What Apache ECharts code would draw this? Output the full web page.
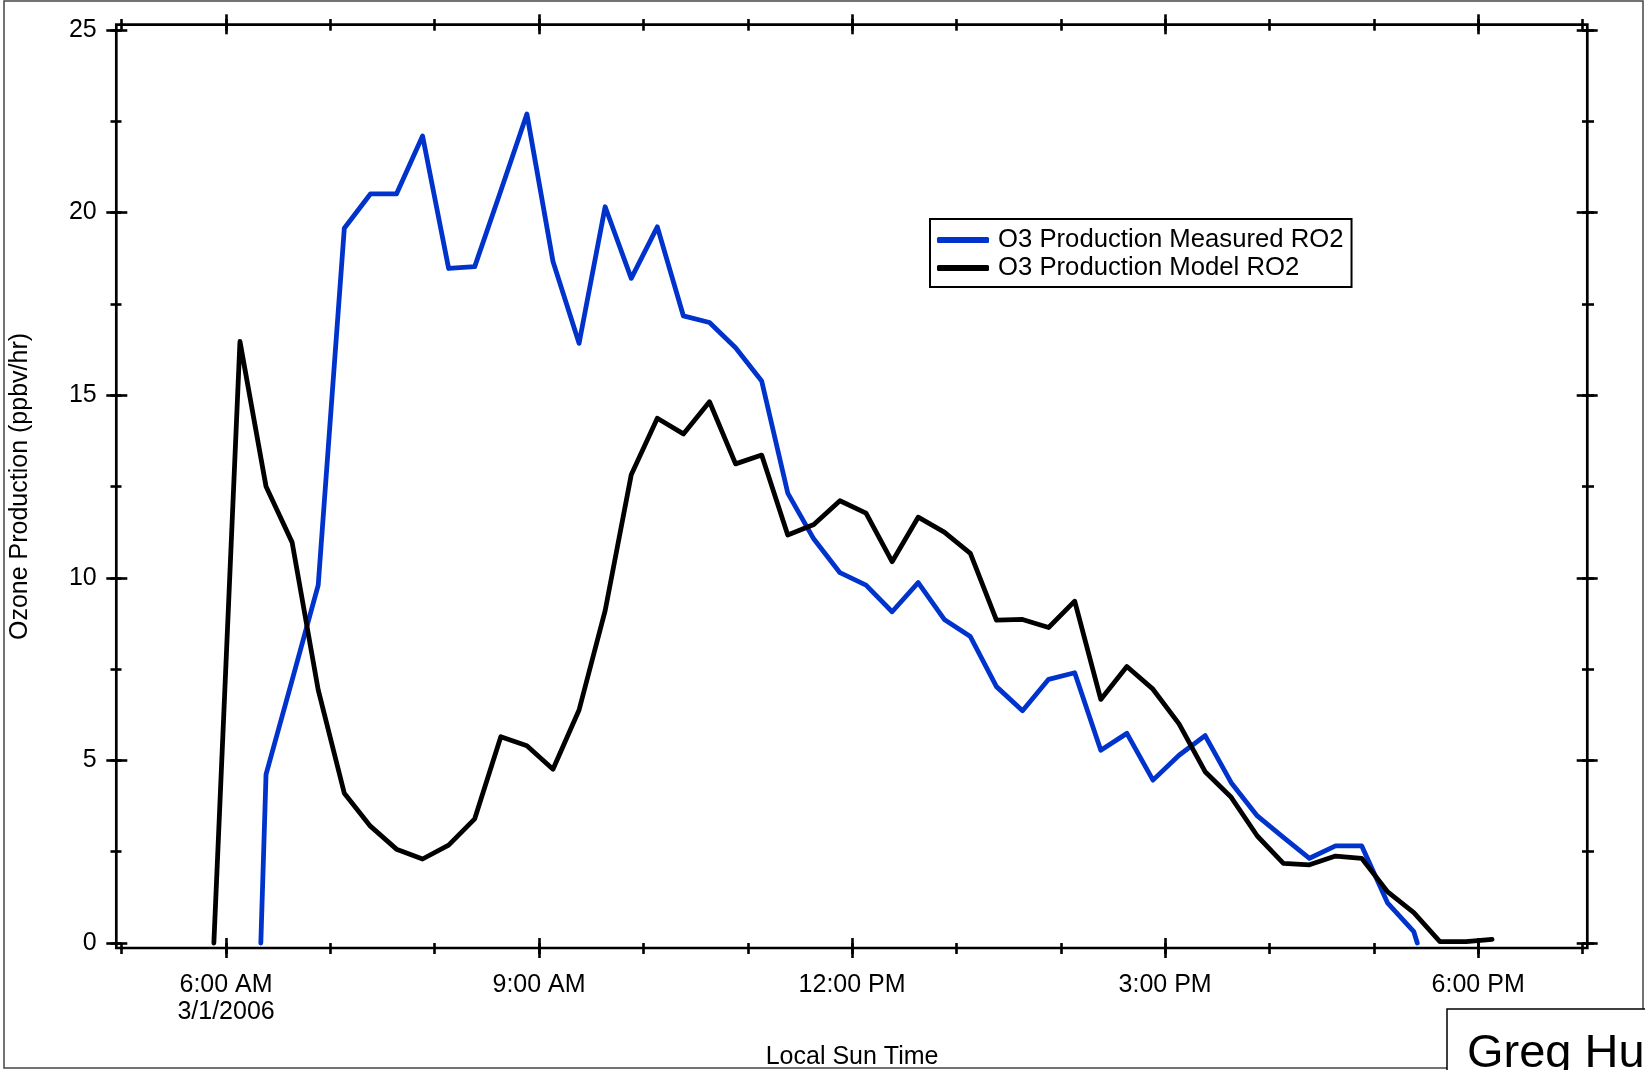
<!DOCTYPE html>
<html>
<head>
<meta charset="utf-8">
<title>O3 Production</title>
<script src="https://cdn.jsdelivr.net/npm/echarts@6/dist/echarts.min.js"></script>
<style>
  html, body { margin: 0; padding: 0; background: #fff; }
  #chart { width: 1645px; height: 1070px; }
</style>
</head>
<body>
<div id="chart"></div>
<script>
// Local sun time of each sample (3/1/2006)
const measuredTimes = [
  '6:20', '6:23', '6:38', '6:53', '7:08', '7:23', '7:38', '7:53', '8:08', '8:23',
  '8:38', '8:53', '9:08', '9:23', '9:38', '9:53', '10:08', '10:23', '10:38', '10:53',
  '11:08', '11:23', '11:38', '11:53', '12:08', '12:23', '12:38', '12:53', '13:08', '13:23',
  '13:38', '13:53', '14:08', '14:23', '14:38', '14:53', '15:08', '15:23', '15:38', '15:53',
  '16:08', '16:23', '16:38', '16:53', '17:08', '17:23', '17:25'
];
// O3 production from measured RO2 (ppbv/hr)
const measuredValues = [
  0, 4.62, 7.2, 9.8, 19.57, 20.51, 20.51, 22.1, 18.47, 18.52,
  20.6, 22.7, 18.66, 16.42, 20.16, 18.2, 19.61, 17.17, 16.99, 16.3,
  15.39, 12.32, 11.06, 10.14, 9.8, 9.07, 9.87, 8.86, 8.39, 7.02,
  6.36, 7.22, 7.4, 5.28, 5.74, 4.46, 5.14, 5.68, 4.39, 3.48,
  2.89, 2.32, 2.66, 2.66, 1.09, 0.31, 0
];

const modelTimes = [
  '5:53', '6:08', '6:23', '6:38', '6:53', '7:08', '7:23', '7:38', '7:53', '8:08',
  '8:23', '8:38', '8:53', '9:08', '9:23', '9:38', '9:53', '10:08', '10:23', '10:38',
  '10:53', '11:08', '11:23', '11:38', '11:53', '12:08', '12:23', '12:38', '12:53', '13:08',
  '13:23', '13:38', '13:53', '14:08', '14:23', '14:38', '14:53', '15:08', '15:23', '15:38',
  '15:53', '16:08', '16:23', '16:38', '16:53', '17:08', '17:23', '17:38', '17:53', '18:08'
];
// O3 production from model RO2 (ppbv/hr)
const modelValues = [
  0, 16.47, 12.5, 10.97, 6.93, 4.1, 3.2, 2.57, 2.3, 2.68,
  3.4, 5.65, 5.4, 4.76, 6.38, 9.1, 12.82, 14.37, 13.94, 14.82,
  13.12, 13.36, 11.17, 11.46, 12.11, 11.77, 10.44, 11.66, 11.25, 10.67,
  8.84, 8.86, 8.64, 9.36, 6.67, 7.57, 6.95, 6.0, 4.69, 3.99,
  2.93, 2.18, 2.14, 2.38, 2.32, 1.4, 0.83, 0.04, 0.04, 0.1
];

const seriesNames = ['O3 Production Measured RO2', 'O3 Production Model RO2'];

// Hour axis: 5 AM to 7 PM, labelled every three hours
const xTickHours = [6, 9, 12, 15, 18];
const xTickLabels = ['6:00 AM\n3/1/2006', '9:00 AM', '12:00 PM', '3:00 PM', '6:00 PM'];
const yTickValues = [0, 5, 10, 15, 20, 25];

function toHours(t) {
  const p = t.split(':');
  return Number(p[0]) + Number(p[1]) / 60;
}
function pairs(times, values) {
  return times.map((t, i) => [toHours(t), values[i]]);
}

const FONT = '"Liberation Sans", Arial, Helvetica, sans-serif';
const TICK = { color: '#000', width: 2.6 };

function hAxis(opts) {
  return Object.assign({
    gridIndex: 1, type: 'value', min: 5, max: 19,
    axisLine: { show: false, onZero: false },
    splitLine: { show: false },
    axisLabel: { show: false }
  }, opts);
}
function vAxis(opts) {
  return Object.assign({
    gridIndex: 1, type: 'value', min: 0, max: 25,
    axisLine: { show: false, onZero: false },
    splitLine: { show: false },
    axisLabel: { show: false }
  }, opts);
}

const chart = echarts.init(document.getElementById('chart'), null, { renderer: 'canvas' });

chart.setOption({
  animation: false,
  backgroundColor: '#fff',
  textStyle: { fontFamily: FONT, color: '#000' },
  grid: [
    // plot frame
    { left: 116.3, top: 24.7, right: 57.7, bottom: 122, show: true,
      outerBoundsMode: 'none', containLabel: false,
      borderColor: '#000', borderWidth: 2.7, backgroundColor: 'transparent' },
    // data area
    { left: 121.7, top: 30, right: 62.5, bottom: 127,
      outerBoundsMode: 'none', containLabel: false }
  ],
  xAxis: [
    hAxis({
      position: 'bottom', offset: 15,
      axisTick: { show: true, inside: true, length: 20, lineStyle: TICK, customValues: xTickHours },
      axisLabel: {
        show: true, customValues: xTickHours, margin: 14,
        fontSize: 25, lineHeight: 27, color: '#000', fontFamily: FONT,
        formatter: v => xTickLabels[xTickHours.indexOf(v)]
      },
      name: 'Local Sun Time', nameLocation: 'middle', nameGap: 87,
      nameTextStyle: { fontSize: 25, color: '#000', fontFamily: FONT }
    }),
    hAxis({
      position: 'bottom', offset: 11, interval: 1,
      axisTick: { show: true, inside: true, length: 11, lineStyle: TICK }
    }),
    hAxis({
      position: 'top', offset: 15.7,
      axisTick: { show: true, inside: true, length: 20, lineStyle: TICK, customValues: xTickHours }
    }),
    hAxis({
      position: 'top', offset: 11, interval: 1,
      axisTick: { show: true, inside: true, length: 11.7, lineStyle: TICK }
    }),
    { gridIndex: 0, type: 'value', show: false, min: 0, max: 1 }
  ],
  yAxis: [
    vAxis({
      position: 'left', offset: 15.4, interval: 5,
      axisTick: { show: true, inside: true, length: 21, lineStyle: TICK },
      axisLabel: {
        show: true, margin: 9.6, fontSize: 25, color: '#000', fontFamily: FONT,
        customValues: yTickValues
      },
      name: 'Ozone Production (ppbv/hr)', nameLocation: 'middle', nameGap: 74,
      nameRotate: 90,
      nameTextStyle: { fontSize: 25, color: '#000', fontFamily: FONT }
    }),
    vAxis({
      position: 'left', offset: 11.2, interval: 2.5,
      axisTick: { show: true, inside: true, length: 11, lineStyle: TICK }
    }),
    vAxis({
      position: 'right', offset: 15.2, interval: 5,
      axisTick: { show: true, inside: true, length: 21, lineStyle: TICK }
    }),
    vAxis({
      position: 'right', offset: 11.5, interval: 2.5,
      axisTick: { show: true, inside: true, length: 12, lineStyle: TICK }
    }),
    { gridIndex: 0, type: 'value', show: false, min: 0, max: 1 }
  ],
  legend: {
    left: 930, top: 219, orient: 'vertical',
    backgroundColor: '#fff', borderColor: '#000', borderWidth: 2,
    padding: [7, 8, 5, 7], itemGap: 0,
    itemWidth: 52, itemHeight: 6, icon: 'roundRect',
    textStyle: { fontSize: 25.7, lineHeight: 28, color: '#000', fontFamily: FONT, padding: [0, 0, 0, 4] },
    data: seriesNames
  },
  series: [
    {
      name: seriesNames[0], type: 'line', xAxisIndex: 0, yAxisIndex: 0,
      data: pairs(measuredTimes, measuredValues),
      showSymbol: false, symbol: 'none', clip: false,
      color: '#0033CC',
      lineStyle: { color: '#0033CC', width: 4.8, cap: 'round', join: 'round' }
    },
    {
      name: seriesNames[1], type: 'line', xAxisIndex: 0, yAxisIndex: 0,
      data: pairs(modelTimes, modelValues),
      showSymbol: false, symbol: 'none', clip: false,
      color: '#000000',
      lineStyle: { color: '#000000', width: 4.8, cap: 'round', join: 'round' }
    }
  ],
  graphic: [
    { type: 'rect', z: 100, silent: true,
      shape: { x: 4, y: 1, width: 1639, height: 1067 },
      style: { fill: 'none', stroke: '#444', lineWidth: 1.5 } },
    { type: 'rect', z: 101, silent: true,
      shape: { x: 1447, y: 1009, width: 260, height: 120 },
      style: { fill: '#fff', stroke: '#000', lineWidth: 1.5 } },
    { type: 'text', z: 102, silent: true, left: 1467, top: 1031,
      style: { text: 'Greg Hu', font: '47px ' + FONT, fill: '#000' } }
  ]
});
</script>
</body>
</html>
